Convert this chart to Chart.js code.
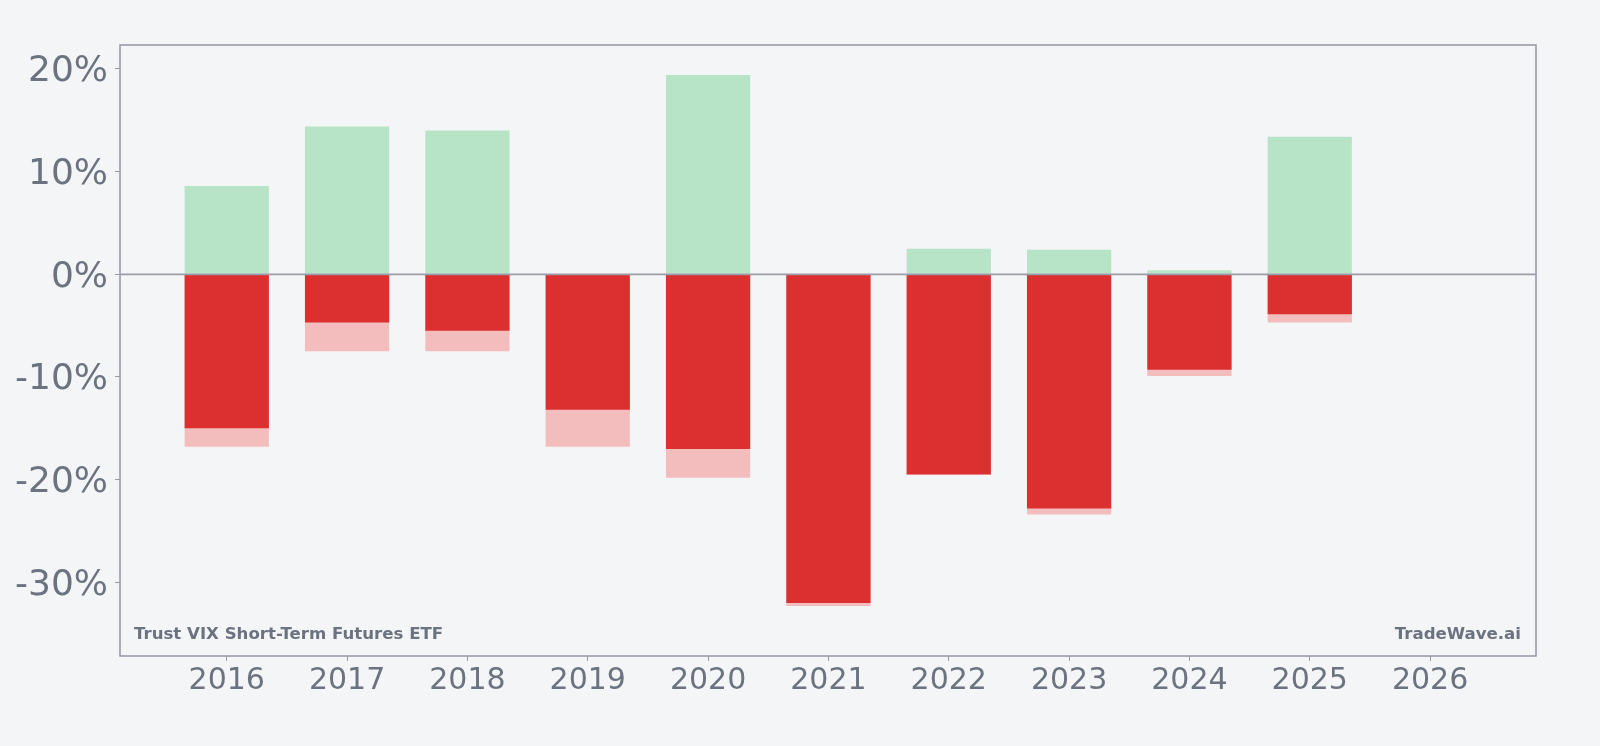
<!DOCTYPE html>
<html>
<head>
<meta charset="utf-8">
<script src="https://cdn.jsdelivr.net/npm/chart.js@4/dist/chart.umd.min.js"></script>
<style>
  html, body { margin: 0; padding: 0; background: #f4f5f7; }
  #wrap { width: 1600px; height: 746px; position: relative; }
</style>
</head>
<body>
<div id="wrap"><canvas id="c" width="1600" height="746"></canvas></div>
<script>
const years = [2016, 2017, 2018, 2019, 2020, 2021, 2022, 2023, 2024, 2025];
const maxGain = [8.6, 14.4, 14.0, 0.0, 19.4, 0.0, 2.5, 2.4, 0.4, 13.4];
const yearClose = [-15.0, -4.7, -5.5, -13.2, -17.0, -32.0, -19.5, -22.8, -9.3, -3.9];
const maxDrawdown = [-16.8, -7.5, -7.5, -16.8, -19.8, -32.3, -19.5, -23.4, -9.9, -4.7];
const xTicks = [2016, 2017, 2018, 2019, 2020, 2021, 2022, 2023, 2024, 2025, 2026];
const yTicks = [-30, -20, -10, 0, 10, 20];
const leftNote = 'Trust VIX Short-Term Futures ETF';
const rightNote = 'TradeWave.ai';

const TEXT = '#6b7280';
const BORDER = '#9a9ca8';

const pts = (arr) => years.map((y, i) => ({ x: y, y: arr[i] }));

const framePlugin = {
  id: 'frame',
  afterDatasetsDraw(chart) {
    const { ctx, chartArea: a, scales } = chart;
    ctx.save();
    const y0 = scales.y.getPixelForValue(0);
    ctx.strokeStyle = BORDER;
    ctx.lineWidth = 1.8;
    ctx.beginPath();
    ctx.moveTo(a.left, y0);
    ctx.lineTo(a.right, y0);
    ctx.stroke();
    ctx.lineWidth = 1.6;
    ctx.strokeRect(a.left, a.top, a.right - a.left, a.bottom - a.top);
    ctx.fillStyle = TEXT;
    ctx.font = 'bold 16.6px "DejaVu Sans"';
    ctx.textBaseline = 'alphabetic';
    ctx.textAlign = 'left';
    ctx.fillText(leftNote, a.left + 14, a.bottom - 17);
    ctx.textAlign = 'right';
    ctx.fillText(rightNote, a.right - 15, a.bottom - 17);
    ctx.restore();
  }
};

new Chart(document.getElementById('c'), {
  type: 'bar',
  data: {
    datasets: [
      { label: 'Max gain', data: pts(maxGain), backgroundColor: '#b7e4c7' },
      { label: 'Year close', data: pts(yearClose), backgroundColor: '#dc3030' },
      { label: 'Max drawdown', data: pts(maxDrawdown), backgroundColor: '#f4bdbd' }
    ]
  },
  options: {
    responsive: false,
    animation: false,
    devicePixelRatio: 1,
    layout: { padding: { left: 0, right: 64, top: 45, bottom: 0 } },
    datasets: {
      bar: { grouped: false, barPercentage: 0.7, categoryPercentage: 1.0, borderWidth: 0 }
    },
    plugins: {
      legend: { display: false },
      tooltip: { enabled: false },
      title: { display: false }
    },
    scales: {
      x: {
        type: 'linear',
        offset: false,
        min: 2015.113,
        max: 2026.88,
        afterBuildTicks: (s) => { s.ticks = xTicks.map(v => ({ value: v })); },
        afterFit: (s) => { s.height = 90; },
        ticks: {
          color: TEXT,
          font: { family: 'DejaVu Sans', size: 30 },
          padding: 2,
          maxRotation: 0,
          autoSkip: false,
          callback: (v) => String(v)
        },
        grid: { display: true, offset: false, drawOnChartArea: false, drawTicks: true, tickLength: 5, color: BORDER },
        border: { display: false }
      },
      y: {
        type: 'linear',
        min: -37.17,
        max: 22.33,
        afterBuildTicks: (s) => { s.ticks = yTicks.map(v => ({ value: v })); },
        afterFit: (s) => { s.width = 120; },
        ticks: {
          color: TEXT,
          font: { family: 'DejaVu Sans', size: 36 },
          padding: 7,
          labelOffset: 3,
          autoSkip: false,
          callback: (v) => v + '%'
        },
        grid: { display: true, drawOnChartArea: false, drawTicks: true, tickLength: 5, color: BORDER },
        border: { display: false }
      }
    }
  },
  plugins: [framePlugin]
});
</script>
</body>
</html>
